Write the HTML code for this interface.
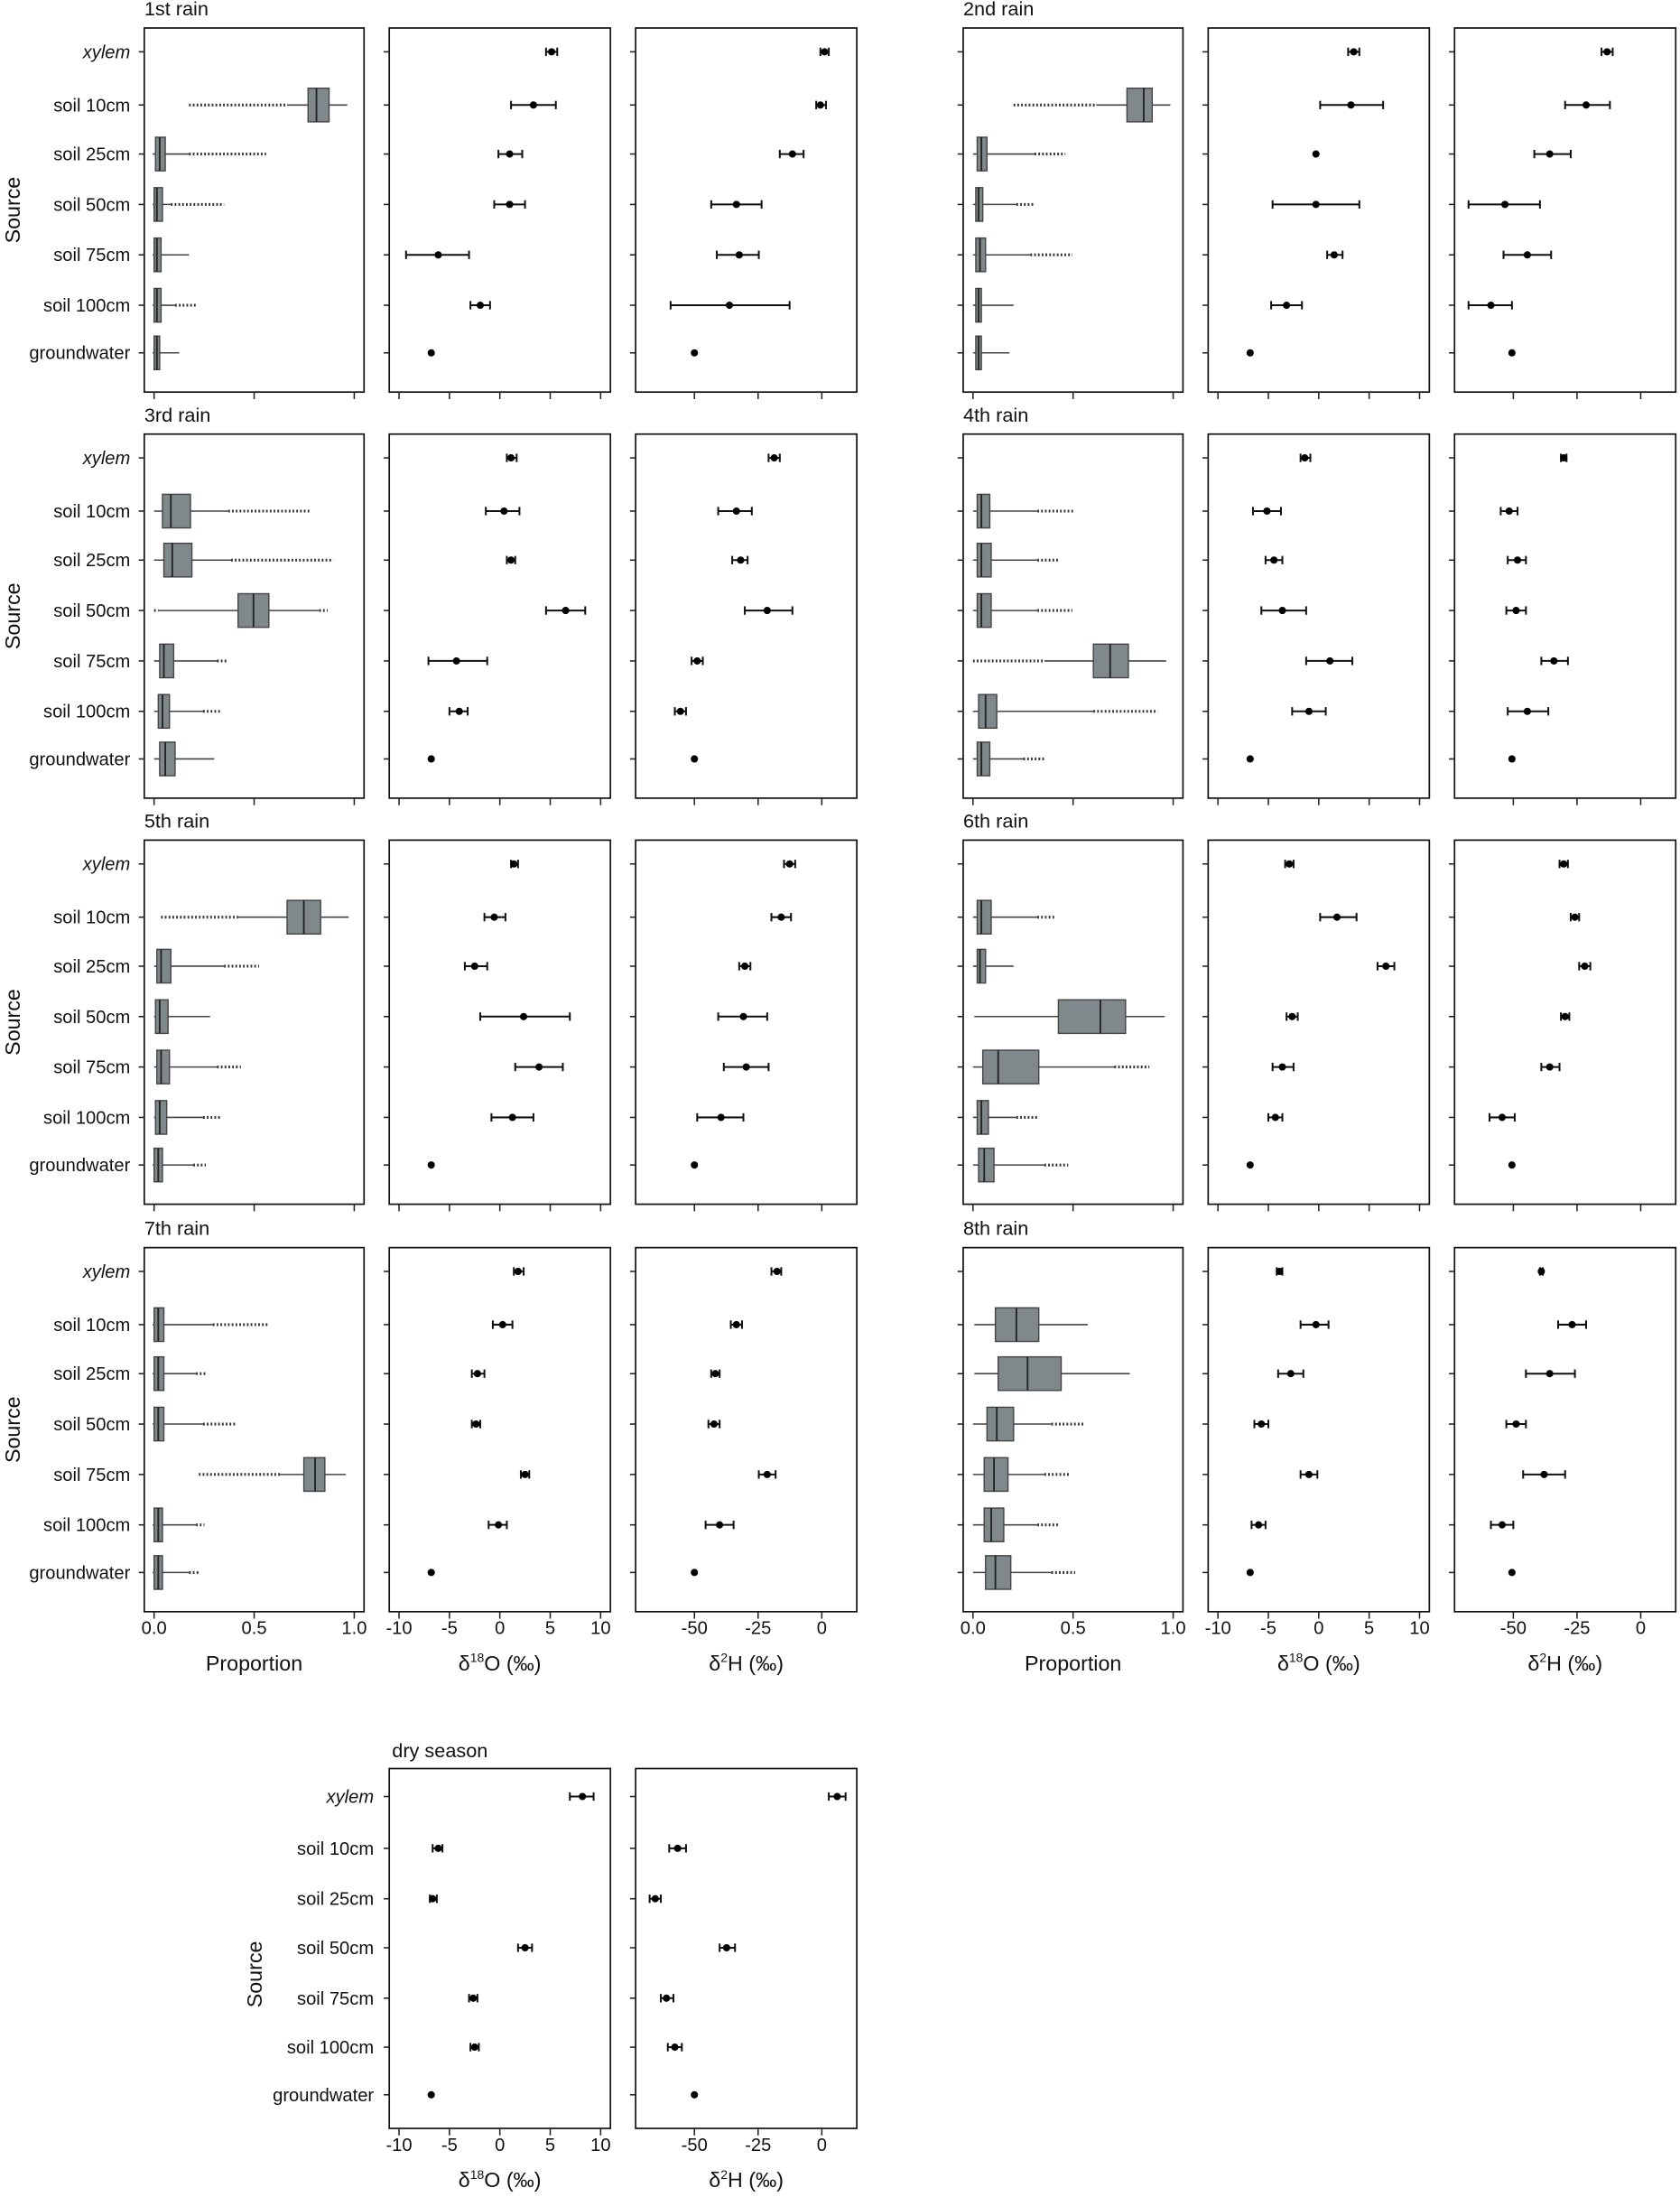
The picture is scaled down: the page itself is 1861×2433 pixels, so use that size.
<!DOCTYPE html>
<html><head><meta charset="utf-8"><style>html,body{margin:0;padding:0;background:#fff}svg{display:block}</style></head>
<body>
<svg id="s" xmlns="http://www.w3.org/2000/svg" width="1861" height="2433" viewBox="0 0 1200 1569" font-family="Liberation Sans, sans-serif"></svg>
<script>
const S=document.getElementById('s');let h='';
const cats=['xylem','soil 10cm','soil 25cm','soil 50cm','soil 75cm','soil 100cm','groundwater'];
const rowTops=[20,310,600,891];const PH=260;const offs=[17,55,90,126,162,198,232];
const PA=[103,260],PB=[278,436],PC=[454,612];
// box: [q1,med,q3,wlo,whi,oLo,oHi]
const D=[
 {t:'1st rain',P:[null,[220,226,235,205,248,135,0],[111,114,118,109,135,0,190],[110,112,116,109,122,0,160],[110,112,115,109,135,0,0],[110,112,115,109,125,0,140],[110,112,114,109,128,0,0]],
  O:[[394,390,398],[381,365,397],[364,356,373],[364,353,375],[313,290,335],[343,336,350],[308]],
  H:[[589,586,592],[586,583,590],[566,557,574],[526,508,544],[528,512,542],[521,479,564],[496]]},
 {t:'2nd rain',P:[null,[220,232,238,198,251,139,0],[113,116,120,110,154,0,176],[112,114,117,110,141,0,153],[112,115,119,110,151,0,181],[112,114,116,110,139,0,0],[112,114,116,110,136,0,0]],
  O:[[382,378,386],[380,358,403],[355],[355,324,386],[368,363,374],[334,323,345],[308]],
  H:[[563,559,567],[548,533,565],[522,511,537],[490,464,515],[506,489,523],[480,464,495],[495]]},
 {t:'3rd rain',P:[null,[116,122,136,110,163,0,222],[117,123,137,110,165,0,238],[170,181,192,113,228,110,234],[114,117,124,110,155,0,163],[113,116,121,110,145,0,158],[114,118,125,110,153,0,0]],
  O:[[365,362,369],[360,347,371],[365,362,368],[404,390,418],[326,306,348],[328,321,334],[308]],
  H:[[553,549,557],[526,513,537],[529,523,534],[548,532,566],[498,494,502],[486,482,490],[496]]},
 {t:'4th rain',P:[null,[113,116,122,110,156,0,182],[113,116,123,110,156,0,171],[113,116,123,110,156,0,181],[196,208,221,161,248,110,0],[114,119,127,110,196,0,242],[113,116,122,110,146,0,161]],
  O:[[347,344,351],[320,310,330],[325,319,331],[331,316,348],[365,348,381],[350,338,362],[308]],
  H:[[532,530,534],[493,487,499],[499,492,505],[498,491,505],[525,516,535],[506,492,521],[495]]},
 {t:'5th rain',P:[null,[205,217,229,170,249,115,0],[112,115,122,110,160,0,185],[111,114,120,110,150,0,0],[112,115,121,110,155,0,172],[111,114,119,110,145,0,158],[110,113,116,109,138,0,147]],
  O:[[367,365,370],[353,346,361],[339,332,348],[374,343,407],[385,368,402],[366,351,381],[308]],
  H:[[564,560,568],[558,551,565],[532,528,536],[531,513,548],[533,517,549],[515,498,531],[496]]},
 {t:'6th rain',P:[null,[113,116,123,110,156,0,168],[113,115,119,110,139,0,0],[171,201,219,111,247,0,0],[117,128,157,110,211,0,236],[113,116,121,110,141,0,156],[114,118,125,110,161,0,178]],
  O:[[336,333,339],[370,358,384],[405,399,411],[338,334,342],[331,324,339],[326,321,331],[308]],
  H:[[532,529,535],[540,537,543],[547,543,551],[533,530,536],[522,516,529],[488,479,497],[495]]},
 {t:'7th rain',P:[null,[110,113,117,109,152,0,192],[110,113,117,109,140,0,147],[110,113,117,109,145,0,168],[217,225,232,200,247,142,0],[110,113,116,109,140,0,146],[110,113,116,109,135,0,143]],
  O:[[370,367,374],[359,352,366],[341,337,346],[340,337,343],[375,372,378],[356,349,362],[308]],
  H:[[555,551,558],[526,522,530],[511,508,514],[510,506,514],[548,542,554],[514,504,524],[496]]},
 {t:'8th rain',P:[null,[126,141,157,111,192,0,0],[128,149,173,111,222,0,0],[120,127,139,110,166,0,190],[118,125,135,110,161,0,179],[118,123,132,110,156,0,171],[119,126,137,110,166,0,183]],
  O:[[329,327,331],[355,344,364],[337,328,346],[316,311,321],[350,344,356],[314,309,319],[308]],
  H:[[516,515,517],[538,528,548],[522,505,540],[498,491,505],[518,503,533],[488,480,496],[495]]}
];
function rect(x0,x1,y0,y1){h+=`<rect x="${x0}" y="${y0}" width="${x1-x0}" height="${y1-y0}" fill="none" stroke="#111" stroke-width="1.1"/>`;}
function panel(x0,x1,y0,ph,of,xt){rect(x0,x1,y0,y0+ph);
 of.forEach(o=>h+=`<line x1="${x0-4}" x2="${x0}" y1="${y0+o}" y2="${y0+o}" stroke="#222" stroke-width="1"/>`);
 xt.forEach(x=>h+=`<line x1="${x}" x2="${x}" y1="${y0+ph}" y2="${y0+ph+5}" stroke="#222" stroke-width="1"/>`);}
const tP=[110,181.5,253],tO=[285,321,357,393,429],tH=[496,541.5,587];
function pts(arr,dx,y0,of){arr.forEach((e,i)=>{const y=y0+of[i];const c=e[0]+dx;
 if(e.length>1){const a=e[1]+dx,b=e[2]+dx;h+=`<line x1="${a}" x2="${b}" y1="${y}" y2="${y}" stroke="#111" stroke-width="1.3"/><line x1="${a}" x2="${a}" y1="${y-3}" y2="${y+3}" stroke="#111" stroke-width="1.3"/><line x1="${b}" x2="${b}" y1="${y-3}" y2="${y+3}" stroke="#111" stroke-width="1.3"/>`;}
 h+=`<circle cx="${c}" cy="${y}" r="2.6" fill="#000"/>`;});}
function boxes(arr,dx,y0,of){arr.forEach((e,i)=>{if(!e)return;const y=y0+of[i];const [q1,m,q3,wl,wh,ol,oh]=e.map(v=>v?v+dx:0);
 if(ol)h+=`<line x1="${ol}" x2="${wl}" y1="${y}" y2="${y}" stroke="#333" stroke-width="2" stroke-dasharray="1.2 1.5"/>`;
 if(oh)h+=`<line x1="${wh}" x2="${oh}" y1="${y}" y2="${y}" stroke="#333" stroke-width="2" stroke-dasharray="1.2 1.5"/>`;
 h+=`<line x1="${wl}" x2="${wh}" y1="${y}" y2="${y}" stroke="#444" stroke-width="1"/>`;
 h+=`<rect x="${q1}" y="${y-12}" width="${q3-q1}" height="24" fill="#7f898b" stroke="#444" stroke-width="0.9"/><line x1="${m}" x2="${m}" y1="${y-12}" y2="${y+12}" stroke="#222" stroke-width="1.2"/>`;});}
function txt(x,y,s,a,sz,extra){h+=`<text x="${x}" y="${y}" font-size="${sz||13}" text-anchor="${a||'start'}" fill="#111" ${extra||''}>${s}</text>`;}
function catLabels(xr,y0,of){of.forEach((o,i)=>txt(xr,y0+o+4.5,cats[i],'end',13,i==0?'font-style="italic"':''));}
for(let r=0;r<4;r++){const y0=rowTops[r];
 for(let g=0;g<2;g++){const d=D[r*2+g];const dx=g?585:0;
  txt(PA[0]+dx,y0-9,d.t,'start',14);
  panel(PA[0]+dx,PA[1]+dx,y0,PH,offs,tP.map(v=>v+dx));
  panel(PB[0]+dx,PB[1]+dx,y0,PH,offs,tO.map(v=>v+dx));
  panel(PC[0]+dx,PC[1]+dx,y0,PH,offs,tH.map(v=>v+dx));
  boxes(d.P,dx,y0,offs);pts(d.O,dx,y0,offs);pts(d.H,dx,y0,offs);
 }
 catLabels(93,y0,offs);
 txt(0,0,'Source','middle',15,`transform="translate(14,${y0+PH/2}) rotate(-90)"`);
}
function xlab(dx,y){[['0.0',110],['0.5',181.5],['1.0',253]].forEach(([s,x])=>txt(x+dx,y,s,'middle',13));
 [['-10',285],['-5',321],['0',357],['5',393],['10',429]].forEach(([s,x])=>txt(x+dx,y,s,'middle',13));
 [['-50',496],['-25',541.5],['0',587]].forEach(([s,x])=>txt(x+dx,y,s,'middle',13));}
function xO(dx,y){txt(357+dx,y,'δ<tspan font-size="9" dy="-6">18</tspan><tspan dy="6">O (‰)</tspan>','middle',15);}
function xH(dx,y){txt(533+dx,y,'δ<tspan font-size="9" dy="-6">2</tspan><tspan dy="6">H (‰)</tspan>','middle',15);}
for(let g=0;g<2;g++){const dx=g?585:0;xlab(dx,1167);txt(181.5+dx,1193,'Proportion','middle',15);xO(dx,1193);xH(dx,1193);}
// dry season
const dy0=1263,dph=257,dof=[20,57,93,128,164,199,233];
txt(280,1255,'dry season','start',14);
panel(PB[0],PB[1],dy0,dph,dof,tO);panel(PC[0],PC[1],dy0,dph,dof,tH);
pts([[416,407,424],[313,309,316],[309,307,312],[375,370,380],[338,335,341],[339,336,342],[308]],0,dy0,dof);
pts([[598,592,604],[484,478,490],[468,464,472],[519,514,525],[476,472,481],[482,477,487],[496]],0,dy0,dof);
dof.forEach((o,i)=>txt(267,dy0+o+4.5,cats[i],'end',13,i==0?'font-style="italic"':''));
txt(0,0,'Source','middle',15,`transform="translate(187,1410) rotate(-90)"`);
[['-10',285],['-5',321],['0',357],['5',393],['10',429],['-50',496],['-25',541.5],['0',587]].forEach(([s,x])=>txt(x,1536,s,'middle',13));
xO(0,1562);xH(0,1562);
S.innerHTML=h;
</script>
</body></html>
